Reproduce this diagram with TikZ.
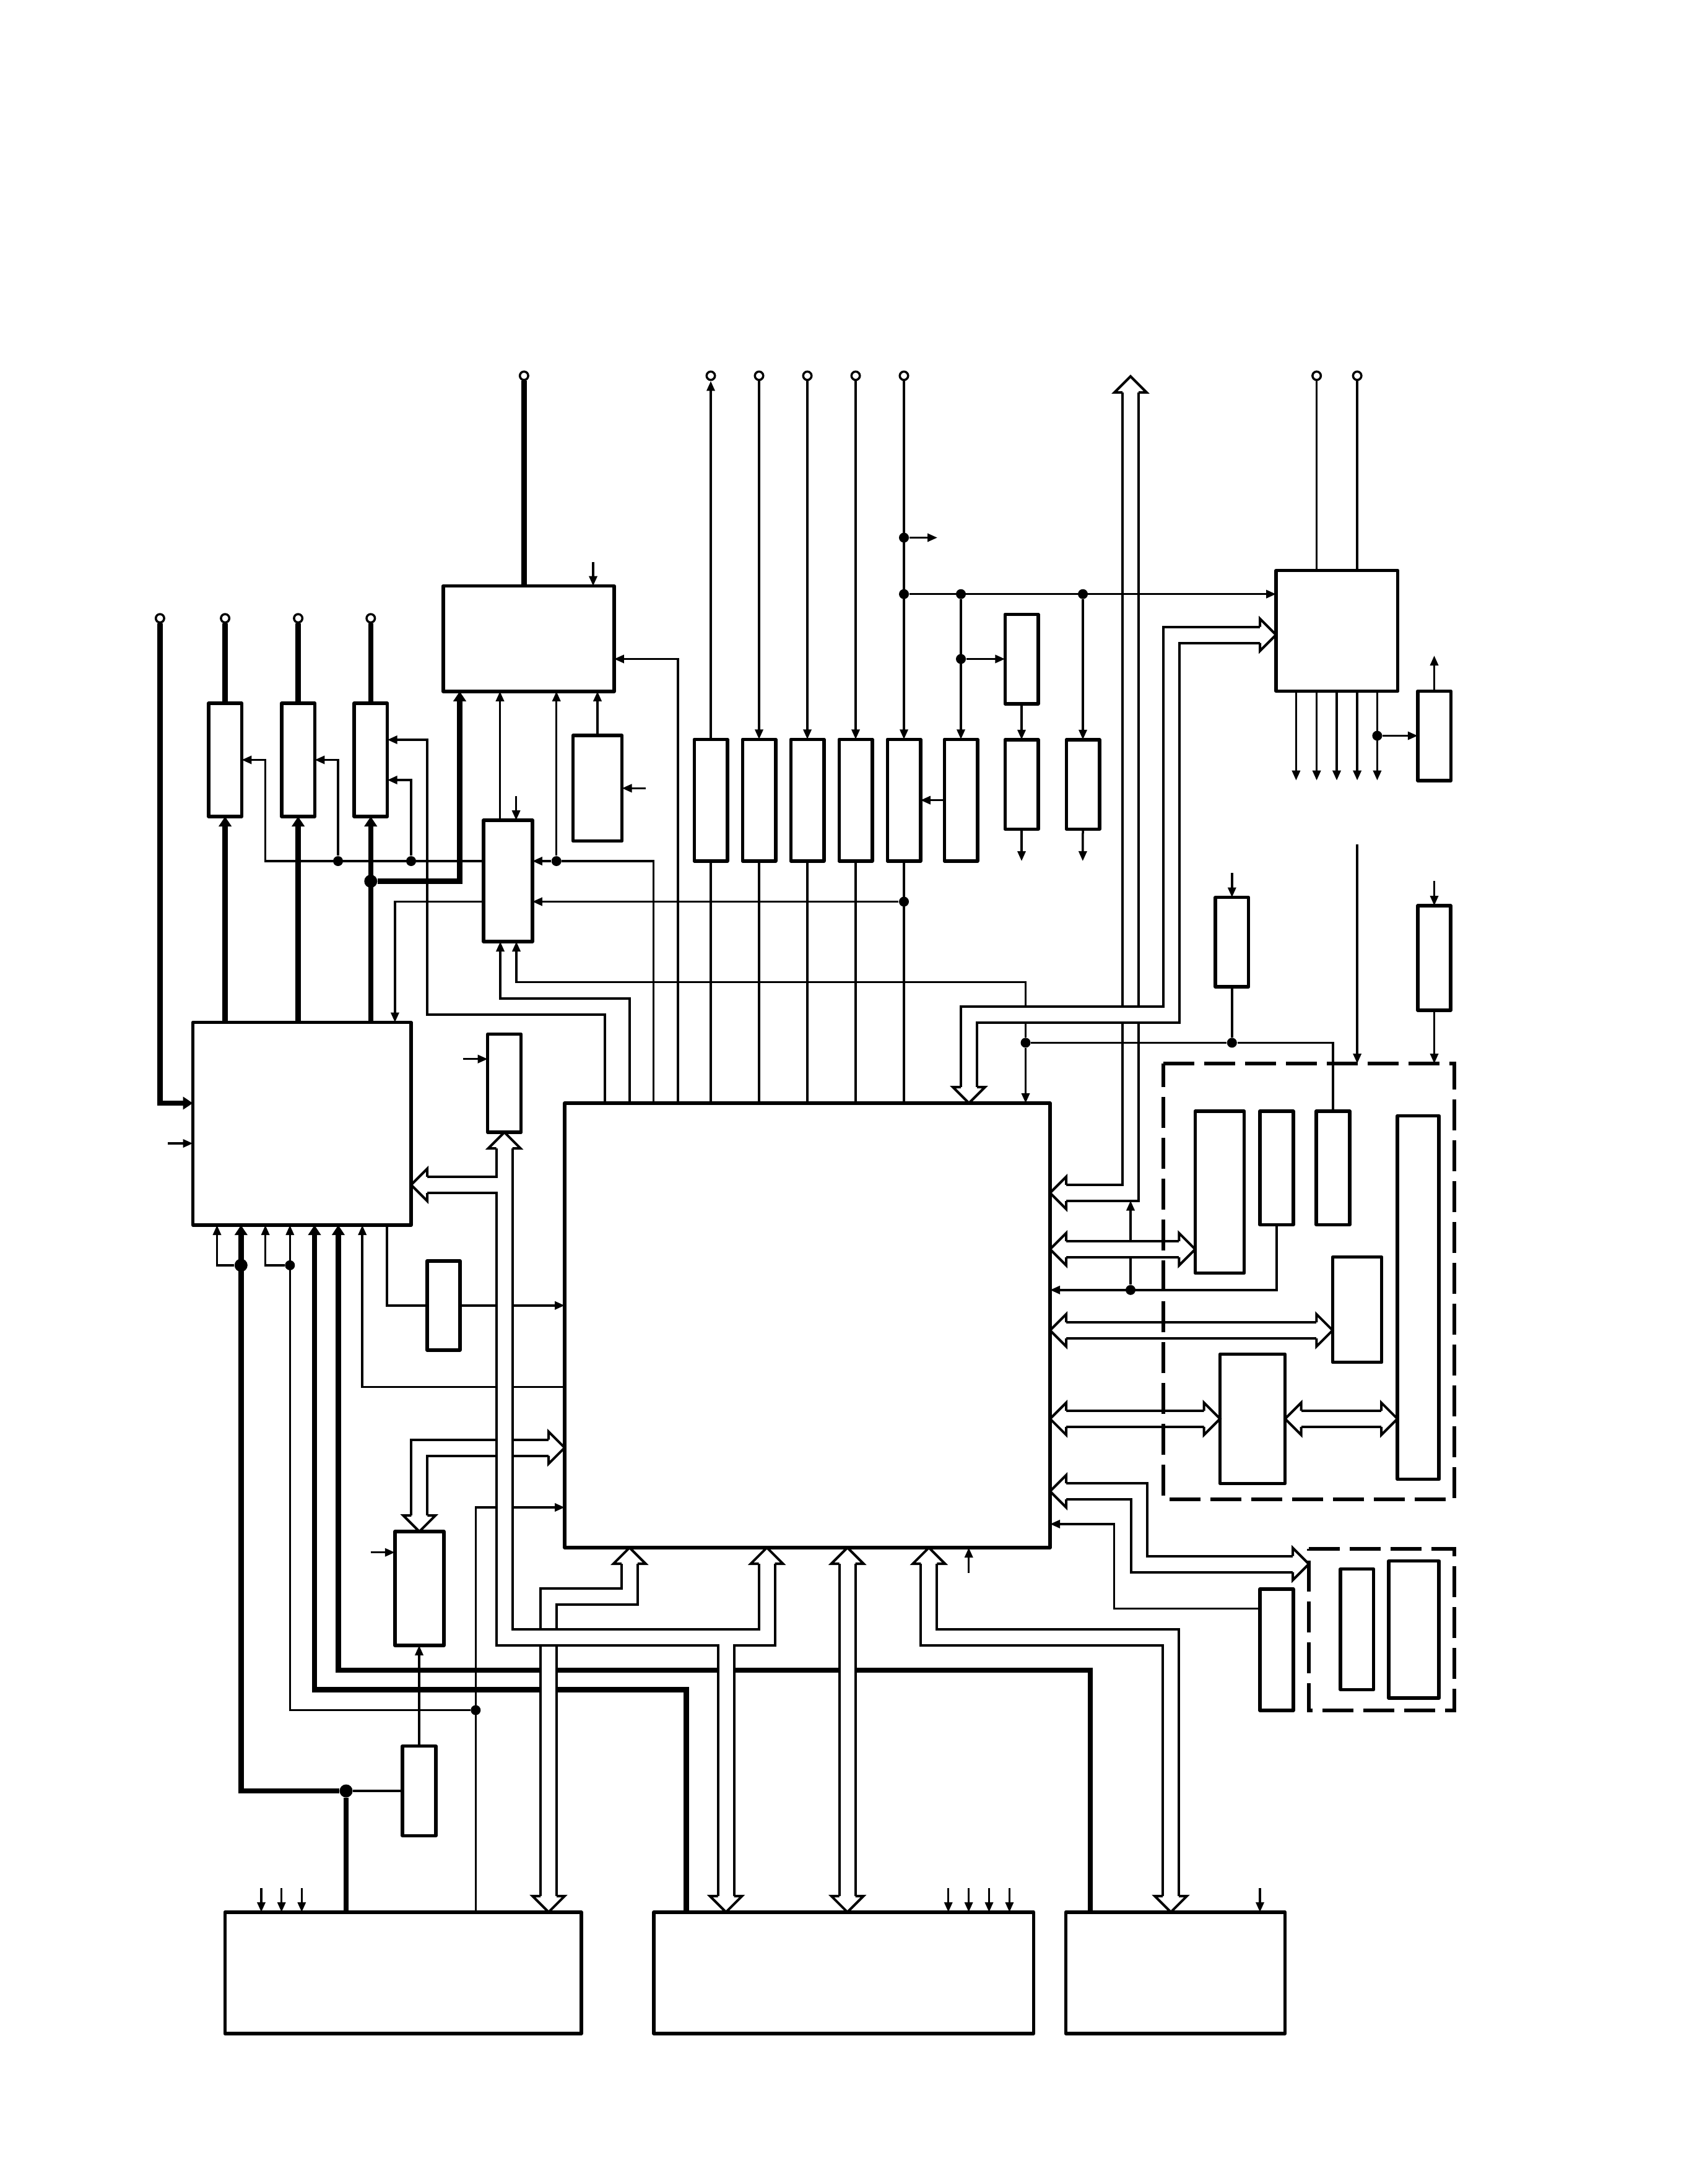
\documentclass[tikz,border=0pt]{standalone}
\usepackage{tikz}
\usetikzlibrary{positioning,arrows.meta}

\begin{document}
\begin{tikzpicture}[
    x=1cm, y=-1cm,
    base/.style={rectangle, draw, line width=0.055cm, line join=round, inner sep=0pt, outer sep=0pt},
    Breg/.style={base, minimum width=0.535cm, minimum height=1.966cm},
    Bdrv/.style={base, minimum width=0.535cm, minimum height=1.445cm},
    Bpwr/.style={base, minimum width=0.536cm, minimum height=1.83cm},
    Bside/.style={base, minimum height=1.962cm},
    Bcard/.style={rectangle, inner sep=0pt, outer sep=0pt},
    Bpin/.style={circle, draw, fill=white, line width=0.035cm, inner sep=0pt, minimum size=0.135cm},
    jdot/.style={circle, fill, inner sep=0pt, minimum size=0.16cm},
    jbig/.style={circle, fill, inner sep=0pt, minimum size=0.21cm},
    wire/.style={line width=0.035cm},
    pwr/.style={line width=0.085cm},
    arr/.style={wire, -{Triangle[length=1.6mm, width=1.3mm]}},
    harr/.style={pwr, -{Triangle[length=1.6mm, width=2mm]}},
    bus/.style={line width=0.04cm, double, double distance=0.22cm},
    dashbox/.style={line width=0.06cm, dash pattern=on 0.5cm off 0.16cm},
    bhead/.pic={
        \fill[white] (0,0) -- (-0.26,0.26) -- (-0.26,-0.26) -- cycle;
        \draw[line width=0.04cm] (-0.26,0.13) -- (-0.26,0.26) -- (0,0)
            -- (-0.26,-0.26) -- (-0.26,-0.13);
    },
]
\useasboundingbox[fill=white] (-0.01,0) rectangle (27.26,35.28);

% left column
\node[Bpwr] (pwra) at (3.626,12.275) {};
\node[Bpwr, right=0.644cm of pwra] (pwrb) {};
\node[Bpwr, right=0.636cm of pwrb] (pwrc) {};
\node[base, minimum width=3.525cm, minimum height=3.275cm] (cpu) at (4.868,18.153) {};
\node[base, minimum width=0.53cm, minimum height=1.44cm] (tmr) at (7.153,21.088) {};
\node[base, minimum width=0.79cm, minimum height=1.84cm] (conv) at (6.763,25.66) {};
\node[base, minimum width=0.54cm, minimum height=1.446cm] (sns) at (6.76,28.93) {};

% upper blocks
\node[base, minimum width=2.761cm, minimum height=1.703cm] (ctrl) at (8.528,10.317) {};
\node[base, minimum width=0.791cm, minimum height=1.705cm] (osc) at (9.64,12.733) {};
\node[base, minimum width=0.788cm, minimum height=1.96cm] (mux) at (8.194,14.23) {};
\node[base, minimum width=0.54cm, minimum height=1.585cm] (buf) at (8.137,17.498) {};

% register row
\node[Breg] (rega) at (11.47,12.926) {};
\node[Breg, right=0.245cm of rega] (regb) {};
\node[Breg, right=0.245cm of regb] (regc) {};
\node[Breg, right=0.245cm of regc] (regd) {};
\node[Breg, right=0.245cm of regd] (rege) {};
\node[Breg, right=0.385cm of rege] (regf) {};
\node[Bdrv] (latg) at (16.49,10.645) {};
\node[Bdrv, below=0.58cm of latg] (drvg) {};
\node[Bdrv, right=0.455cm of drvg] (drvh) {};

% serial block and right side
\node[base, minimum width=1.966cm, minimum height=1.949cm] (ser) at (21.583,10.19) {};
\node[Bdrv] (drvs) at (23.155,11.885) {};
\node[Bdrv] (clkb) at (19.888,15.218) {};
\node[base, minimum width=0.53cm, minimum height=1.69cm] (clkc) at (23.155,15.475) {};

% main chip
\node[base, minimum width=7.84cm, minimum height=7.18cm] (mcu) at (13.03,21.41) {};

% card groups, outlined further down
\node[Bcard, minimum width=4.701cm, minimum height=7.04cm] (carda) at (21.133,20.70) {};
\node[Bcard, minimum width=2.354cm, minimum height=2.612cm] (cardb) at (22.307,26.323) {};
\node[base, minimum width=0.792cm, minimum height=2.612cm] (rama) at (19.69,19.258) {};
\node[base, minimum width=0.539cm, minimum height=1.832cm] (ramb) at (20.608,18.868) {};
\node[base, minimum width=0.539cm, minimum height=1.832cm] (ramc) at (21.52,18.868) {};
\node[base, minimum width=0.672cm, minimum height=5.871cm] (lcd) at (22.896,20.96) {};
\node[base, minimum width=0.793cm, minimum height=1.7cm] (gfx) at (21.91,21.157) {};
\node[base, minimum width=1.05cm, minimum height=2.09cm] (dsp) at (20.221,22.919) {};
\node[base, minimum width=0.536cm, minimum height=1.949cm] (iob) at (21.908,26.32) {};
\node[base, minimum width=0.81cm, minimum height=2.214cm] (ioc) at (22.827,26.323) {};
\node[base, minimum width=0.539cm, minimum height=1.959cm] (ioa) at (20.608,26.65) {};

% bottom row
\node[Bside, minimum width=5.755cm] (bl) at (6.5,31.869) {};
\node[Bside, minimum width=6.136cm] (bm) at (13.616,31.869) {};
\node[Bside, minimum width=3.541cm] (br) at (18.975,31.869) {};

% terminals
\node[Bpin] (pinv) at (2.574,9.988) {};
\node[Bpin] (pina) at (pwra.north |- 0,9.988) {};
\node[Bpin] (pinb) at (pwrb.north |- 0,9.988) {};
\node[Bpin] (pinc) at (pwrc.north |- 0,9.988) {};
\node[Bpin] (pinm) at (8.454,6.07) {};
\node[Bpin] (pinra) at (rega.north |- 0,6.07) {};
\node[Bpin] (pinrb) at (regb.north |- 0,6.07) {};
\node[Bpin] (pinrc) at (regc.north |- 0,6.07) {};
\node[Bpin] (pinrd) at (regd.north |- 0,6.07) {};
\node[Bpin] (pinre) at (rege.north |- 0,6.07) {};
\node[Bpin] (pinsa) at (21.256,6.07) {};
\node[Bpin] (pinsb) at (21.911,6.07) {};

% junctions
\node[jdot] (jsa) at (5.45,13.91) {};
\node[jdot] (jsb) at (6.63,13.91) {};
\node[jdot] (jsc) at (8.977,13.91) {};
\node[jbig] (jhv) at (pwrc.south |- 0,14.235) {};
\node[jdot] (jre) at (rege.south |- 0,14.565) {};
\node[jdot] (jtap) at (rege.north |- 0,8.685) {};
\node[jdot] (jbus) at (rege.north |- 0,9.597) {};
\node[jdot] (jsp) at (regf.north |- jbus) {};
\node[jdot] (jlat) at (regf.north |- 0,10.645) {};
\node[jdot] (jh) at (drvh.north |- jbus) {};
\node[jdot] (jout) at (22.234,11.885) {};
\node[jdot] (jclk) at (16.555,16.844) {};
\node[jdot] (jcb) at (clkb.south |- jclk) {};
\node[jdot] (jfb) at (18.25,20.838) {};
\node[jbig] (jca) at (3.883,20.439) {};
\node[jdot] (jcc) at (4.673,20.439) {};
\node[jdot] (jrs) at (7.673,27.625) {};
\node[jbig] (jsn) at (5.58,28.93) {};

% free ends
\coordinate (inm) at (9.57,9.076);
\coordinate (inosc) at (10.42,12.733);
\coordinate (inmux) at (8.326,12.858);
\coordinate (incpu) at (2.7,18.47);
\coordinate (inbuf) at (7.474,17.107);
\coordinate (inconv) at (5.975,25.077);
\coordinate (inmcu) at (15.637,25.406);
\coordinate (inka) at (4.21,30.498);
\coordinate (inkb) at (4.537,30.498);
\coordinate (inkc) at (4.863,30.498);
\coordinate (inla) at (15.307,30.498);
\coordinate (inlb) at (15.636,30.498);
\coordinate (inlc) at (15.965,30.498);
\coordinate (inld) at (16.294,30.498);
\coordinate (inbr) at (20.34,30.498);
\coordinate (inclkb) at (19.888,14.1);
\coordinate (inclkc) at (23.155,14.23);
\coordinate (incard) at (21.911,13.643);
\coordinate (outtap) at (15.13,8.685);
\coordinate (outg) at (16.49,13.91);
\coordinate (outh) at (17.478,13.91);
\coordinate (outsa) at (20.924,12.607);
\coordinate (outsb) at (21.256,12.607);
\coordinate (outsc) at (21.58,12.607);
\coordinate (outsd) at (21.911,12.607);
\coordinate (outse) at (22.234,12.607);
\coordinate (outdr) at (23.155,10.59);
\coordinate (outfb) at (18.25,19.395);

% bus tips
\coordinate (tua) at (18.25,6.08);
\coordinate (tub) at (mcu.east |- 0,19.27);
\coordinate (tsa) at (ser.west |- 0,10.255);
\coordinate (tsb) at (mcu.north -| 15.64,0);
\coordinate (tra) at (mcu.east |- 0,20.18);
\coordinate (trb) at (rama.west |- tra);
\coordinate (tga) at (mcu.east |- 0,21.49);
\coordinate (tgb) at (gfx.west |- tga);
\coordinate (tda) at (mcu.east |- dsp.west);
\coordinate (tla) at (lcd.west |- dsp.east);
\coordinate (tia) at (mcu.east |- 0,24.09);
\coordinate (tib) at (cardb.west |- 0,25.265);
\coordinate (tka) at (mcu.south -| 10.158,0);
\coordinate (tkb) at (bl.north -| 8.85,0);
\coordinate (tcl) at (cpu.east |- 0,19.14);
\coordinate (tmu) at (mcu.south -| 12.376,0);
\coordinate (tmd) at (bm.north -| 11.715,0);
\coordinate (jbl) at (buf.south |- tcl);
\coordinate (jbb) at (buf.south |- 0,26.45);
\coordinate (tna) at (mcu.south -| 13.677,0);
\coordinate (tnb) at (bm.north -| 13.677,0);
\coordinate (tea) at (mcu.south -| 14.993,0);
\coordinate (teb) at (br.north -| 18.9,0);
\coordinate (tfa) at (mcu.west |- 0,23.386);

% address bus to the top, under the wires
\draw[bus] ([yshift=-0.26cm]tua) |- ([xshift=0.26cm]tub);

% heavy supply lines
\draw[pwr] (pina) -- (pwra.north);
\draw[pwr] (pinb) -- (pwrb.north);
\draw[pwr] (pinc) -- (pwrc.north);
\draw[pwr] (pinm) -- (pinm |- ctrl.north);
\draw[harr] (pinv) |- (cpu.west |- 0,17.82);
\draw[harr] (cpu.north -| pwra) -- (pwra.south);
\draw[harr] (cpu.north -| pwrb) -- (pwrb.south);
\draw[harr] (cpu.north -| pwrc) -- (pwrc.south);
\draw[harr] (jhv) -| (ctrl.south -| 7.415,0);
\draw[harr] (jsn) -| (cpu.south -| jca);
\draw[pwr] (jsn) -- (jsn |- bl.north);
\draw[harr] (bm.north -| 11.076,0) |- (5.07,27.295) -- (5.07,0 |- cpu.south);
\draw[harr] (br.north -| 17.6,0) |- (5.454,26.979) -- (5.454,0 |- cpu.south);

% control lines, left part
\draw[arr] (mux.west |- jsa) -- (4.277,13.91) |- (pwra.east);
\draw[arr] (jsa) |- (pwrb.east);
\draw[arr] (jsb) |- (pwrc.east |- 0,12.6);
\draw[arr] (mcu.north -| 9.76,0) |- (6.89,16.39) |- (pwrc.east |- 0,11.95);
\draw[arr] (mcu.north -| 10.546,0) |- (jsc) -- (mux.east |- jsc);
\draw[arr] (jsc) -- (jsc |- ctrl.south);
\draw[arr] (mux.north -| 8.065,0) -- (ctrl.south -| 8.065,0);
\draw[arr] (osc.north) -- (osc.north |- ctrl.south);
\draw[arr] (inm) -- (inm |- ctrl.north);
\draw[arr] (inosc) -- (osc.east);
\draw[arr] (inmux) -- (inmux |- mux.north);
\draw[arr] (mcu.north -| 10.94,0) |- (ctrl.east |- 0,10.645);
\draw[arr] (jre) -- (mux.east |- jre);
\draw[arr] (mux.west |- jre) -| (cpu.north -| 6.369,0);
\draw[arr] (mcu.north -| 10.16,0) |- (8.07,16.13) -- (8.07,0 |- mux.south);
\draw[arr] (jclk) |- (8.33,15.866) -- (8.33,0 |- mux.south);
\draw[arr] (incpu) -- (incpu -| cpu.west);
\draw[arr] (inbuf) -- (inbuf -| buf.west);
\draw[arr] (inconv) -- (inconv -| conv.west);
\draw[arr] (jca) -| (cpu.south -| 3.495,0);
\draw[arr] (jcc) -| (cpu.south -| 4.276,0);
\draw[arr] (jrs) -| (cpu.south -| jcc);
\draw[arr] (bl.north -| jrs) |- (mcu.west |- 0,24.35);
\draw[arr] (mcu.west |- 0,22.404) -| (cpu.south -| 5.842,0);
\draw[wire] (cpu.south -| 6.24,0) |- (tmr.west);
\draw[arr] (tmr.east) -- (tmr.east -| mcu.west);
\draw[arr] (sns.north) -- (sns.north |- conv.south);
\draw[wire] (jsn) -- (jsn -| sns.west);

% register row wiring
\draw[arr] (rega.north) -- (pinra);
\draw[arr] (pinrb) -- (regb.north);
\draw[arr] (pinrc) -- (regc.north);
\draw[arr] (pinrd) -- (regd.north);
\draw[arr] (pinre) -- (rege.north);
\draw[wire] (rega.south) -- (rega.south |- mcu.north);
\draw[wire] (regb.south) -- (regb.south |- mcu.north);
\draw[wire] (regc.south) -- (regc.south |- mcu.north);
\draw[wire] (regd.south) -- (regd.south |- mcu.north);
\draw[wire] (rege.south) -- (rege.south |- mcu.north);
\draw[arr] (regf.west) -- (rege.east);
\draw[arr] (jtap) -- (outtap);
\draw[arr] (jbus) -- (ser.west |- jbus);
\draw[arr] (jsp) -- (regf.north);
\draw[arr] (jlat) -- (latg.west);
\draw[arr] (jh) -- (drvh.north);
\draw[arr] (latg.south) -- (drvg.north);
\draw[arr] (drvg.south) -- (outg);
\draw[arr] (drvh.south) -- (outh);

% serial block wiring
\draw[wire] (pinsa) -- (pinsa |- ser.north);
\draw[wire] (pinsb) -- (pinsb |- ser.north);
\draw[arr] (outsa |- ser.south) -- (outsa);
\draw[arr] (outsb |- ser.south) -- (outsb);
\draw[arr] (outsc |- ser.south) -- (outsc);
\draw[arr] (outsd |- ser.south) -- (outsd);
\draw[arr] (outse |- ser.south) -- (outse);
\draw[arr] (jout) -- (drvs.west);
\draw[arr] (drvs.north) -- (outdr);

% clock and card lines
\draw[arr] (jclk) -- (jclk |- mcu.north);
\draw[wire] (jclk) -- (jcb) -| (ramc.north);
\draw[wire] (clkb.south) -- (jcb);
\draw[arr] (inclkb) -- (clkb.north);
\draw[arr] (inclkc) -- (clkc.north);
\draw[arr] (clkc.south) -- (clkc.south |- carda.north);
\draw[arr] (incard) -- (incard |- carda.north);
\draw[arr] (ramb.south) |- (mcu.east |- jfb);
\draw[arr] (jfb) -- (outfb);
\draw[arr] (ioa.west |- 0,25.987) -| (17.985,24.619) -- (mcu.east |- 0,24.619);
\draw[arr] (inmcu) -- (inmcu |- mcu.south);

% bottom inputs
\draw[arr] (inka) -- (inka |- bl.north);
\draw[arr] (inkb) -- (inkb |- bl.north);
\draw[arr] (inkc) -- (inkc |- bl.north);
\draw[arr] (inla) -- (inla |- bm.north);
\draw[arr] (inlb) -- (inlb |- bm.north);
\draw[arr] (inlc) -- (inlc |- bm.north);
\draw[arr] (inld) -- (inld |- bm.north);
\draw[arr] (inbr) -- (inbr |- br.north);

% hollow buses, the tee bus last so that it crosses over the others
\draw[bus] ([xshift=-0.26cm]tsa) -| (18.905,16.39) -| ([yshift=0.26cm]tsb);
\draw[bus] ([xshift=0.26cm]tra) -- ([xshift=-0.26cm]trb);
\draw[bus] ([xshift=0.26cm]tga) -- ([xshift=-0.26cm]tgb);
\draw[bus] ([xshift=0.26cm]tda) -- ([xshift=-0.26cm]dsp.west);
\draw[bus] ([xshift=0.26cm]dsp.east) -- ([xshift=-0.26cm]tla);
\draw[bus] ([xshift=0.26cm]tia) -| (18.385,25.265) -- ([xshift=-0.26cm]tib);
\draw[bus] ([yshift=-0.26cm]tka) |- (8.85,25.793) -- ([yshift=0.26cm]tkb);
\draw[bus] ([yshift=-0.26cm]tna) -- ([yshift=0.26cm]tnb);
\draw[bus] ([yshift=-0.26cm]tea) |- (18.9,26.45) -- ([yshift=0.26cm]teb);
\draw[bus] ([xshift=-0.26cm]tfa) -| ([yshift=0.26cm]conv.north);
\draw[bus] ([yshift=-0.26cm]buf.south) -- (jbb) -| ([yshift=-0.26cm]tmu)
    ([xshift=0.26cm]tcl) -- (jbl)
    ([yshift=0.26cm]tmd) -- (tmd |- jbb);

% bus heads
\pic[rotate=90] at (tua) {bhead};
\pic[rotate=180] at (tub) {bhead};
\pic at (tsa) {bhead};
\pic[rotate=-90] at (tsb) {bhead};
\pic[rotate=180] at (tra) {bhead};
\pic at (trb) {bhead};
\pic[rotate=180] at (tga) {bhead};
\pic at (tgb) {bhead};
\pic[rotate=180] at (tda) {bhead};
\pic at (dsp.west) {bhead};
\pic[rotate=180] at (dsp.east) {bhead};
\pic at (tla) {bhead};
\pic[rotate=180] at (tia) {bhead};
\pic at (tib) {bhead};
\pic[rotate=90] at (tka) {bhead};
\pic[rotate=-90] at (tkb) {bhead};
\pic[rotate=90] at (buf.south) {bhead};
\pic[rotate=180] at (tcl) {bhead};
\pic[rotate=90] at (tmu) {bhead};
\pic[rotate=-90] at (tmd) {bhead};
\pic[rotate=90] at (tna) {bhead};
\pic[rotate=-90] at (tnb) {bhead};
\pic[rotate=90] at (tea) {bhead};
\pic[rotate=-90] at (teb) {bhead};
\pic at (tfa) {bhead};
\pic[rotate=-90] at (conv.north) {bhead};

% card outlines
\draw[dashbox] (carda.north west) -- (carda.north east) -- (carda.south east)
    -- (carda.south west) -- cycle;
\draw[dashbox] (cardb.north west) -- (cardb.north east) -- (cardb.south east)
    -- (cardb.south west) -- cycle;
\end{tikzpicture}
\end{document}
